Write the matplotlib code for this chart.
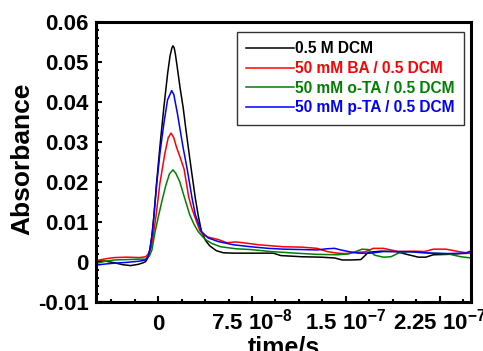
import numpy as np
import matplotlib
matplotlib.use('Agg')
import matplotlib.pyplot as plt
from matplotlib.ticker import MultipleLocator, FixedLocator

plt.rcParams['font.family'] = 'Liberation Sans'
plt.rcParams['font.weight'] = 'bold'
plt.rcParams['mathtext.default'] = 'regular'

# time in ns, absorbance
t_dcm = [-50, -42, -35, -28, -22, -16, -12, -10, -8, -6.7, -5, -3.5, -1.3, 1.9, 4.6, 7.6, 9.5, 11, 11.8,
         12.8, 13.8, 15.3, 17.5, 20, 22, 23.9, 26.5, 29.7, 31.9, 34.6, 38, 41.3, 46.6, 52, 60, 75, 92, 98,
         115, 130, 141, 147, 155, 162, 168, 178, 190, 200, 208, 214, 220, 232, 242, 250]
a_dcm = [0.0003, 0.0002, -0.0002, -0.0007, -0.0009, -0.0006, -0.0002, 0.0001, 0.0012, 0.003, 0.0065,
         0.0113, 0.0197, 0.0305, 0.0388, 0.0472, 0.0515, 0.0535, 0.054, 0.0535, 0.0518, 0.0485, 0.0435,
         0.0385, 0.0335, 0.029, 0.023, 0.0159, 0.0118, 0.0076, 0.0053, 0.0040, 0.0028, 0.0023, 0.0022,
         0.0022, 0.0022, 0.0016, 0.0013, 0.0012, 0.0010, 0.0005, 0.0005, 0.0006, 0.0024, 0.0027, 0.0026,
         0.0018, 0.0012, 0.0012, 0.0018, 0.0019, 0.0021, 0.0022]

t_ba = [-50, -42, -35, -25, -15, -10, -8, -5.3, -1.8, 1.4, 5.4, 8, 10.3, 12.5, 14.5, 17.5, 20.7, 22.5,
        24.4, 26.5, 28.7, 33.3, 37, 40, 48, 55, 62, 68, 80, 100, 115, 127, 135, 143, 150, 158, 165,
        172, 180, 192, 205, 213, 220, 230, 240, 250]
a_ba = [0.0003, 0.0008, 0.0011, 0.0012, 0.0011, 0.0013, 0.002, 0.0038, 0.0113, 0.0197, 0.0272, 0.031,
        0.0322, 0.031, 0.0288, 0.0262, 0.0232, 0.0198, 0.0162, 0.0138, 0.0118, 0.0078, 0.0066, 0.0062,
        0.0056, 0.0048, 0.0050, 0.0048, 0.0043, 0.0038, 0.0037, 0.0034, 0.0026, 0.0022, 0.0021, 0.0024,
        0.0025, 0.0034, 0.0034, 0.0026, 0.0027, 0.0026, 0.0032, 0.0032, 0.0026, 0.0021]

t_ota = [-50, -42, -35, -25, -15, -10, -7, -5, -2.7, 0.5, 3.2, 6, 9, 11.8, 14, 17.2, 21.2, 25.2, 28.5,
         31.9, 37.3, 43, 50, 62, 74, 90, 110, 127, 143, 152, 158, 163, 168, 173, 180, 186, 192, 200,
         207, 218, 232, 242, 250]
a_ota = [-0.0004, 0.0002, 0.0005, 0.0006, 0.0007, 0.0007, 0.0015, 0.003, 0.0072, 0.0118, 0.0155, 0.019,
         0.022, 0.023, 0.0222, 0.0201, 0.0159, 0.0118, 0.0095, 0.0076, 0.0057, 0.0046, 0.0038, 0.0033,
         0.0031, 0.0026, 0.0022, 0.0019, 0.0018, 0.0020, 0.0026, 0.0032, 0.0031, 0.0017, 0.0012, 0.0013,
         0.0022, 0.0026, 0.0024, 0.0022, 0.0020, 0.0013, 0.0010]

t_pta = [-50, -42, -35, -25, -15, -10, -8, -6.7, -5, -3.5, -1.3, 1.4, 4.6, 7.5, 10.8, 12.5, 15.3, 19.8,
         23.3, 27.1, 29.7, 34.6, 40, 48, 60, 74, 88, 100, 115, 127, 135, 141, 146, 152, 160, 170, 180,
         195, 205, 218, 232, 245, 250]
a_pta = [-0.0008, -0.0005, -0.0003, -0.0001, 0.0002, 0.0005, 0.0015, 0.003, 0.0065, 0.011, 0.019,
         0.0272, 0.0347, 0.0405, 0.0428, 0.0418, 0.0372, 0.0288, 0.023, 0.0159, 0.0118, 0.0076, 0.006,
         0.0051, 0.0043, 0.0038, 0.0034, 0.0032, 0.0031, 0.0030, 0.0033, 0.0034, 0.0030, 0.0026, 0.0022,
         0.0022, 0.0026, 0.0026, 0.0025, 0.0022, 0.0021, 0.0022, 0.0027]

labels = ['0.5 M DCM', '50 mM BA / 0.5 DCM', '50 mM o-TA / 0.5 DCM', '50 mM p-TA / 0.5 DCM']
colors = ['black', 'red', 'green', 'blue']

x_ticks = [0, 7.5e-8, 1.5e-7, 2.25e-7]
x_ticklabels = ['0', '7.5 10$^{-8}$', '1.5 10$^{-7}$', '2.25 10$^{-7}$']
y_ticks = [-0.01, 0, 0.01, 0.02, 0.03, 0.04, 0.05, 0.06]
y_ticklabels = ['-0.01', '0', '0.01', '0.02', '0.03', '0.04', '0.05', '0.06']

fig = plt.figure(figsize=(4.83, 3.51), dpi=100)
ax = fig.add_axes([0.198, 0.1396, 0.777, 0.7984])

series = [(t_dcm, a_dcm), (t_ba, a_ba), (t_ota, a_ota), (t_pta, a_pta)]
for (t, a), lab, c in zip(series, labels, colors):
    ax.plot(np.array(t) * 1e-9, a, color=c, lw=1.1, label=lab)

ax.set_xlim(-5e-8, 2.5e-7)
ax.set_ylim(-0.01, 0.06)

ax.xaxis.set_major_locator(FixedLocator(x_ticks))
ax.set_xticklabels(x_ticklabels)
ax.xaxis.set_minor_locator(MultipleLocator(1.875e-8))
ax.yaxis.set_major_locator(FixedLocator(y_ticks))
ax.set_yticklabels(y_ticklabels)
ax.yaxis.set_minor_locator(MultipleLocator(0.002))

ax.tick_params(which='both', direction='in', top=False, right=False, width=1.5)
ax.tick_params(which='major', length=4, labelsize=16)
ax.tick_params(which='minor', length=2.2)
ax.tick_params(axis='y', pad=5)
ax.tick_params(axis='x', pad=20)
for lbl in ax.get_xticklabels():
    lbl.set_va('baseline')

for sp in ax.spines.values():
    sp.set_linewidth(2.2)

ax.set_xlabel('time/s', fontsize=18, fontweight='bold')
ax.xaxis.set_label_coords(0.502, -0.118)
ax.set_ylabel('Absorbance', fontsize=19, fontweight='bold')
ax.yaxis.set_label_coords(-0.162, 0.51)

leg = ax.legend(loc='upper right', bbox_to_anchor=(0.981, 0.963), borderaxespad=0,
                fontsize=11.2, handlelength=3.1, handletextpad=0.05, labelspacing=0.3,
                borderpad=0.6, fancybox=False, framealpha=1)
leg.get_frame().set_edgecolor('#333333')
leg.get_frame().set_linewidth(1.0)
for txt, c in zip(leg.get_texts(), colors):
    txt.set_color(c)
    txt.set_fontweight('bold')

fig.savefig('out.png', dpi=100)
